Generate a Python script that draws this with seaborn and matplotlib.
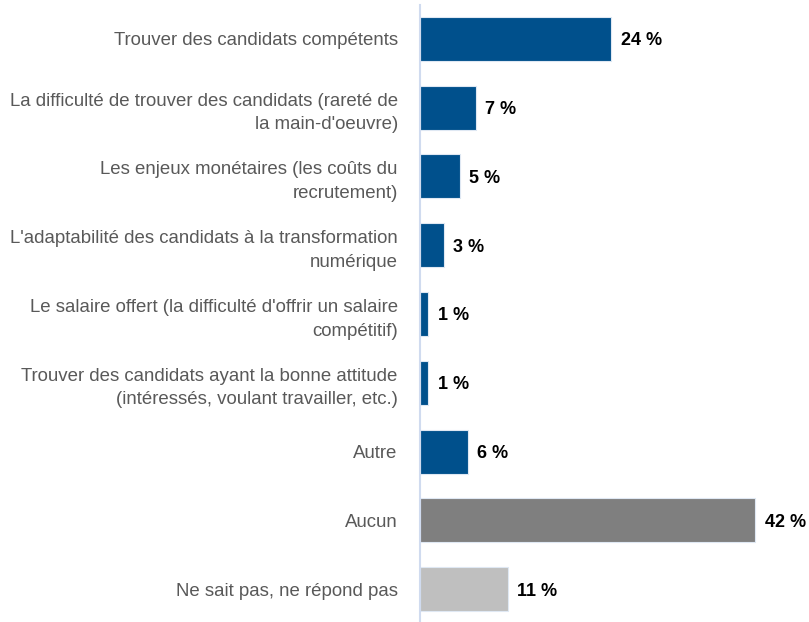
import matplotlib
matplotlib.use("Agg")
import matplotlib.pyplot as plt
import seaborn as sns
import pandas as pd

categories = [
    "Trouver des candidats compétents",
    "La difficulté de trouver des candidats (rareté de\nla main-d'oeuvre)",
    "Les enjeux monétaires (les coûts du\nrecrutement)",
    "L'adaptabilité des candidats à la transformation\nnumérique",
    "Le salaire offert (la difficulté d'offrir un salaire\ncompétitif)",
    "Trouver des candidats ayant la bonne attitude\n(intéressés, voulant travailler, etc.)",
    "Autre",
    "Aucun",
    "Ne sait pas, ne répond pas",
]
values = [24, 7, 5, 3, 1, 1, 6, 42, 11]
colors = ["#00508c"] * 7 + ["#7f7f7f", "#bfbfbf"]

sns.set_theme(style="white")
plt.rcParams["font.family"] = ["Liberation Sans", "DejaVu Sans"]

df = pd.DataFrame({"cat": categories, "val": values})

fig = plt.figure(figsize=(8.09, 6.22), dpi=100)
ax = fig.add_axes([420 / 809, -1.5 / 622, (809 - 420) / 809, 619 / 622])

sns.barplot(data=df, x="val", y="cat", hue="cat", palette=colors,
            saturation=1, legend=False, width=0.64, edgecolor="#dfe8f3",
            linewidth=0.8, ax=ax, orient="h")

ax.set_xlim(0, (809 - 420) / 7.976)
ax.set_ylim(8.5, -0.5)
ax.set_xlabel("")
ax.set_ylabel("")
ax.set_xticks([])
ax.tick_params(axis="y", length=0, pad=16, labelsize=13.4, labelcolor="#595959")
for lbl in ax.get_yticklabels():
    lbl.set_horizontalalignment("right")
    lbl.set_multialignment("right")
    lbl.set_linespacing(1.5)

for s in ["top", "right", "bottom"]:
    ax.spines[s].set_visible(False)
ax.spines["left"].set_color("#d0dbef")
ax.spines["left"].set_linewidth(1.5)

for i, v in enumerate(values):
    ax.text(v + 1.2, i, f"{v} %", va="center_baseline", ha="left",
            fontsize=13, fontweight="bold", color="black")

fig.savefig("out.png", dpi=100)
